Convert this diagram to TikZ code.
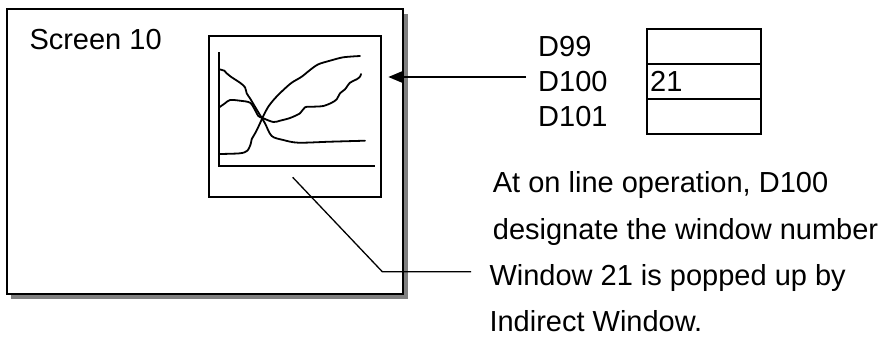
\documentclass[tikz,border=0pt]{standalone}
\usepackage{fontspec}
\setmainfont{Liberation Sans}
\usetikzlibrary{arrows.meta,shadows}

\begin{document}
\begin{tikzpicture}[x=1pt,y=-1pt]
\tikzset{
  screenbox/.style={rectangle,draw=black,fill=white,line width=2pt,minimum width=396.6pt,minimum height=285.3pt,inner sep=0pt,
    drop shadow={shadow xshift=4.5pt,shadow yshift=-4.5pt,fill=black!50,opacity=1}},
  windowbox/.style={rectangle,draw=black,line width=2pt,minimum width=172pt,minimum height=161.3pt,inner sep=0pt},
  regcell/.style={rectangle,draw=black,line width=1.7pt,minimum width=114pt,minimum height=35pt,inner sep=0pt},
  diagtext/.style={font=\fontsize{29}{35}\selectfont,inner sep=0pt,anchor=base west},
  axisline/.style={draw=black,line width=2pt},
  trendline/.style={draw=black,line width=1.8pt,line cap=round,line join=round},
  leader/.style={draw=black,line width=1.3pt},
  pointer/.style={draw=black,line width=2pt,-{Triangle[length=15pt,width=12pt]}}
}
\useasboundingbox (0,0) rectangle (887,338);
% screen and popped-up window
\node[screenbox] (screen) at (205,151.7) {};
\node[diagtext] (screen_title) at (29.3,49.3) {Screen 10};
\node[windowbox] (win) at (295.3,116.7) {};
\draw[axisline] (218.7,52.3) -- (218.7,166) -- (374.7,166);
\draw[trendline] plot[smooth] coordinates {(219.3,69.3) (224.3,70.7) (226.7,73.3) (231.7,77.3) (240,82.7) (245,87.3) (246.7,93.3) (250,98.3) (255,106.7) (260,115) (265,123.3) (271.7,136) (283.3,140) (298.3,142.7) (330,141.7) (365,140.7)};
\draw[trendline] plot[smooth] coordinates {(219.3,107.3) (225,103.3) (230,100) (240,100.7) (250,102.7) (255,110) (258.3,116) (263.3,118.3) (273.3,122) (280,120.7) (290,118) (300,113.3) (305,107.3) (313.3,106.7) (323.3,106) (331.7,102.7) (336.7,99.3) (340,93.3) (345,89.3) (350,82.7) (356.7,79.3) (360,76.7) (361,74)};
\draw[trendline] plot[smooth] coordinates {(219.3,154) (240,153.3) (247.3,150.7) (250.7,144) (251.7,139.3) (256,131.7) (260,123.3) (263.3,116) (268.3,106.7) (275,98.3) (283.3,90) (291.7,82.7) (301.7,76.7) (310,70) (318.3,64.3) (330,60.7) (343.3,57.3) (360,56)};
% data registers
\node[diagtext] (lbl_d99) at (538,56) {D99};
\node[diagtext] (lbl_d100) at (538,91) {D100};
\node[diagtext] (lbl_d101) at (538,126.7) {D101};
\node[regcell] (cell_d99) at (704,46.5) {};
\node[regcell] (cell_d100) at (704,81.5) {};
\node[regcell] (cell_d101) at (704,116.5) {};
\node[diagtext] (val_d100) at (650,91) {21};
% notes
\node[diagtext] (note_a) at (492.7,192) {At on line operation, D100};
\node[diagtext] (note_b) at (492.7,239.3) {designate the window number};
\node[diagtext] (note_c) at (489.3,285) {Window 21 is popped up by};
\node[diagtext] (note_d) at (489.3,331.7) {Indirect Window.};
% connectors
\coordinate (arrow_start) at (526,77);
\coordinate (arrow_tip) at (388.3,77);
\draw[pointer] (arrow_start) -- (arrow_tip);
\coordinate (lead_start) at (292.7,177.3);
\coordinate (lead_bend) at (382.3,271.7);
\coordinate (lead_end) at (471,271.7);
\draw[leader] (lead_start) -- (lead_bend) -- (lead_end);
\end{tikzpicture}
\end{document}
